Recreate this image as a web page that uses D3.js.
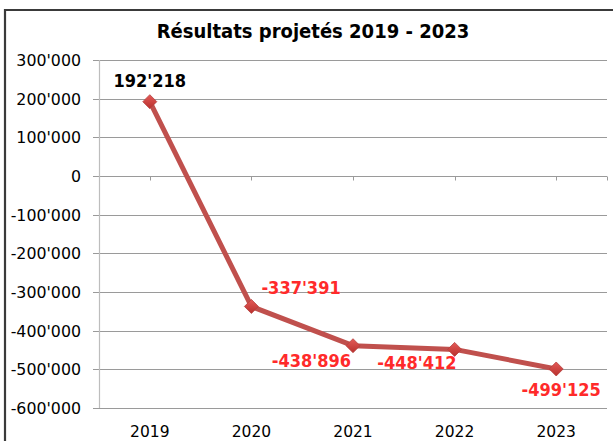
<!DOCTYPE html>
<html lang="fr">
<head>
<meta charset="UTF-8">
<title>Résultats projetés 2019 - 2023</title>
<script src="https://cdnjs.cloudflare.com/ajax/libs/d3/7.8.5/d3.min.js"></script>
<style>
  body { margin: 0; background: #fff; }
  svg { display: block; font-family: "DejaVu Sans", Verdana, sans-serif; }
  .cond { font-family: "DejaVu Sans Condensed", "DejaVu Sans", sans-serif; font-stretch: condensed; }
</style>
</head>
<body>
<svg id="chart" width="613" height="441"></svg>
<script>
const title = "Résultats projetés 2019 - 2023";
const years = ["2019", "2020", "2021", "2022", "2023"];
const results = [192218, -337391, -438896, -448412, -499125];
const yTicks = [300000, 200000, 100000, 0, -100000, -200000, -300000, -400000, -500000, -600000];

// where each data label sits around its point
const labelPlace = ["top", "right", "leftBelow", "leftBelow2", "below"];
const placeStyle = {
  top:        { anchor: "middle", dx: 0,  dy: -15 },
  right:      { anchor: "start",  dx: 10, dy: -12 },
  leftBelow:  { anchor: "end",    dx: -2, dy: 21 },
  leftBelow2: { anchor: "end",    dx: 2,  dy: 20 },
  below:      { anchor: "middle", dx: 5,  dy: 27 }
};

const fmt = d3.formatLocale({
  decimal: ".", thousands: "'", grouping: [3], currency: ["", ""], minus: "-"
}).format(",d");

const svg = d3.select("#chart");
const plotLeft = 99, plotRight = 607, plotTop = 60, plotBottom = 408;

const x = d3.scalePoint().domain(years).range([plotLeft, plotRight]).padding(0.5);
const y = d3.scaleLinear().domain([-600000, 300000]).range([plotBottom, plotTop]);

// outer frame (only top and left show in the crop)
svg.append("path")
  .attr("d", "M5,445V10H620")
  .attr("fill", "none")
  .attr("stroke", "#3a3a3a")
  .attr("stroke-width", 2.2);

svg.append("text")
  .attr("class", "cond")
  .attr("x", 313).attr("y", 38)
  .attr("text-anchor", "middle")
  .attr("font-size", 20).attr("font-weight", "bold")
  .attr("fill", "#000")
  .text(title);

// gridlines + y labels
const grid = svg.append("g");
grid.selectAll("line")
  .data(yTicks)
  .enter().append("line")
  .attr("x1", plotLeft - 6).attr("x2", plotRight)
  .attr("y1", d => Math.round(y(d)) + 0.5)
  .attr("y2", d => Math.round(y(d)) + 0.5)
  .attr("stroke", "#9a9a9a").attr("stroke-width", 1);

grid.selectAll("text")
  .data(yTicks)
  .enter().append("text")
  .attr("x", 81).attr("y", d => y(d) + 6)
  .attr("text-anchor", "end")
  .attr("font-size", 15.8).attr("fill", "#000")
  .text(d => fmt(d));

// value axis line
svg.append("line")
  .attr("x1", plotLeft + 0.5).attr("x2", plotLeft + 0.5)
  .attr("y1", plotTop).attr("y2", plotBottom)
  .attr("stroke", "#bdbdbd").attr("stroke-width", 1.2);

// category tick marks on the zero line
const zeroY = Math.round(y(0)) + 0.5;
svg.append("g").selectAll("line")
  .data(x.domain().map(d => x(d)).concat([plotRight]))
  .enter().append("line")
  .attr("x1", d => Math.round(d) + 0.5).attr("x2", d => Math.round(d) + 0.5)
  .attr("y1", zeroY).attr("y2", zeroY + 4)
  .attr("stroke", "#9a9a9a");

// category labels
svg.append("g").selectAll("text")
  .data(years)
  .enter().append("text")
  .attr("x", d => x(d)).attr("y", 437)
  .attr("text-anchor", "middle")
  .attr("font-size", 15.5).attr("fill", "#000")
  .text(d => d);

// line
const pts = years.map((yr, i) => ({ year: yr, value: results[i], place: labelPlace[i] }));

svg.append("path")
  .datum(pts)
  .attr("fill", "none")
  .attr("stroke", "#c0504d")
  .attr("stroke-width", 5)
  .attr("stroke-linejoin", "round")
  .attr("d", d3.line().x(d => x(d.year)).y(d => y(d.value)));

// diamond markers
const defs = svg.append("defs");
const grad = defs.append("linearGradient").attr("id", "mk")
  .attr("x1", 0).attr("y1", 0).attr("x2", 0).attr("y2", 1);
grad.append("stop").attr("offset", "0%").attr("stop-color", "#e45a57");
grad.append("stop").attr("offset", "100%").attr("stop-color", "#b8302d");

svg.append("g").selectAll("path")
  .data(pts)
  .enter().append("path")
  .attr("transform", d => `translate(${x(d.year)},${y(d.value)})`)
  .attr("d", "M0,-7L7,0L0,7L-7,0Z")
  .attr("fill", "url(#mk)")
  .attr("stroke", "#b5403d").attr("stroke-width", 0.8);

// data labels
svg.append("g").selectAll("text")
  .data(pts)
  .enter().append("text")
  .attr("class", "cond")
  .attr("x", d => x(d.year) + placeStyle[d.place].dx)
  .attr("y", d => y(d.value) + placeStyle[d.place].dy)
  .attr("text-anchor", d => placeStyle[d.place].anchor)
  .attr("font-size", 18).attr("font-weight", "bold")
  .attr("fill", d => d.value < 0 ? "#ff2a2a" : "#000")
  .text(d => fmt(d.value));
</script>
</body>
</html>
